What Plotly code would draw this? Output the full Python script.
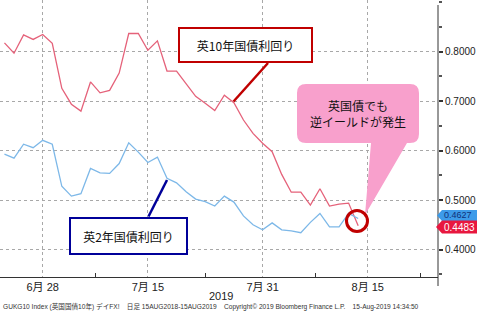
import numpy as np
import plotly.graph_objects as go

# ---- data ----
dates = ["2019-06-24", "2019-06-25", "2019-06-26", "2019-06-27", "2019-06-28",
         "2019-07-01", "2019-07-02", "2019-07-03", "2019-07-04", "2019-07-05",
         "2019-07-08", "2019-07-09", "2019-07-10", "2019-07-11", "2019-07-12",
         "2019-07-15", "2019-07-16", "2019-07-17", "2019-07-18", "2019-07-19",
         "2019-07-22", "2019-07-23", "2019-07-24", "2019-07-25", "2019-07-26",
         "2019-07-29", "2019-07-30", "2019-07-31", "2019-08-01", "2019-08-02",
         "2019-08-05", "2019-08-06", "2019-08-07", "2019-08-08", "2019-08-09",
         "2019-08-12", "2019-08-13", "2019-08-14"]
uk10y = [0.818, 0.797, 0.834, 0.825, 0.835, 0.817, 0.726, 0.694, 0.680, 0.739,
         0.717, 0.722, 0.757, 0.837, 0.837, 0.803, 0.822, 0.761, 0.761, 0.735,
         0.710, 0.696, 0.681, 0.712, 0.697, 0.662, 0.635, 0.615, 0.598, 0.552,
         0.516, 0.516, 0.490, 0.523, 0.488, 0.492, 0.494, 0.4483]
uk2y = [0.593, 0.585, 0.613, 0.606, 0.621, 0.613, 0.528, 0.508, 0.513, 0.564,
        0.555, 0.554, 0.574, 0.616, 0.597, 0.576, 0.587, 0.544, 0.535, 0.517,
        0.502, 0.497, 0.488, 0.508, 0.496, 0.468, 0.450, 0.440, 0.454, 0.440,
        0.438, 0.434, 0.455, 0.473, 0.446, 0.446, 0.473, 0.4627]
tick_dates = ["2019-06-28", "2019-07-15", "2019-07-31", "2019-08-15"]
tick_text = ["6月 28", "7月 15", "7月 31", "8月 15"]
y_ticks = [0.4, 0.5, 0.6, 0.7, 0.8]
label_10y = "英10年国債利回り"
label_2y = "英2年国債利回り"
callout = "英国債でも<br>逆イールドが発生"
footer = ("GUKG10 Index (英国国債10年) デイFX!    日足 15AUG2018-15AUG2019    "
          "Copyright© 2019 Bloomberg Finance L.P.    15-Aug-2019 14:34:50")

# trading-day positions
start = np.datetime64(dates[0])
xs = [int(np.busday_count(start, np.datetime64(d))) for d in dates]
tx = [int(np.busday_count(start, np.datetime64(d))) for d in tick_dates]
minor_tx = [(a + b) / 2 for a, b in zip(tx, tx[1:] + [tx[-1] + (tx[-1] - tx[-2])])]

W, H = 477, 313
PL, PR, PT, PB = 0, 438, 0, 277   # plot area in pixels


def px(x):
    return (x - PL) / (PR - PL)


def py(y):
    return 1 - (y - PT) / (PB - PT)


RED = "#e5627a"
BLUE = "#7db8e8"
DRED = "#c00000"
DBLUE = "#000099"
FONT = "Liberation Sans, Noto Sans CJK JP"
JFONT = "Noto Sans CJK JP"

fig = go.Figure()
fig.add_trace(go.Scatter(x=xs, y=uk10y, mode="lines", line=dict(color=RED, width=1.3),
                         showlegend=False, hoverinfo="skip"))
fig.add_trace(go.Scatter(x=xs, y=uk2y, mode="lines", line=dict(color=BLUE, width=1.3),
                         showlegend=False, hoverinfo="skip"))

shapes = []
# y axis line (extends slightly below plot)
shapes.append(dict(type="line", xref="paper", yref="paper", x0=1, x1=1, y0=py(5), y1=py(286),
                   line=dict(color="#333333", width=1)))
# connector lines
shapes.append(dict(type="line", xref="paper", yref="paper", x0=px(268), y0=py(63),
                   x1=px(233.5), y1=py(101.5), line=dict(color=DRED, width=2.5)))
shapes.append(dict(type="line", xref="paper", yref="paper", x0=px(148.5), y0=py(216.5),
                   x1=px(167), y1=py(180), line=dict(color=DBLUE, width=2.5)))


def pth(pts):
    s = ""
    for cmd, *p in pts:
        s += cmd + " " + " ".join(f"{px(p[i]):.5f},{py(p[i+1]):.5f}" for i in range(0, len(p), 2)) + " "
    return s + "Z"


# pink callout
x0, x1, y0, y1, r = 297, 419, 84, 143, 9
path = pth([("M", x0 + r, y0), ("L", x1 - r, y0), ("Q", x1, y0, x1, y0 + r),
            ("L", x1, y1 - r), ("Q", x1, y1, x1 - r, y1), ("L", 407, y1),
            ("L", 365, 215), ("L", 371, y1), ("L", x0 + r, y1),
            ("Q", x0, y1, x0, y1 - r), ("L", x0, y0 + r), ("Q", x0, y0, x0 + r, y0)])
shapes.append(dict(type="path", xref="paper", yref="paper", path=path,
                   fillcolor="#f8a0cc", line=dict(width=0)))
# red circle
shapes.append(dict(type="circle", xref="paper", yref="paper", x0=px(346.5), x1=px(367.5),
                   y0=py(210.5), y1=py(231.5), line=dict(color=DRED, width=3)))
# value tags (arrow-shaped left ends)
shapes.append(dict(type="path", xref="paper", yref="paper",
                   path=pth([("M", 437, 215.5), ("L", 442, 210), ("L", 480, 210),
                             ("L", 480, 221), ("L", 442, 221)]),
                   fillcolor="#3d9be9", line=dict(width=0)))
shapes.append(dict(type="path", xref="paper", yref="paper",
                   path=pth([("M", 436, 227), ("L", 442, 220.5), ("L", 480, 220.5),
                             ("L", 480, 233.5), ("L", 442, 233.5)]),
                   fillcolor="#e8173f", line=dict(width=0)))

annotations = [
    dict(xref="paper", yref="paper", x=px(245.5), y=py(45), text=label_10y, showarrow=False,
         width=131, height=32, bgcolor="white", bordercolor=DRED, borderwidth=2, borderpad=0,
         font=dict(family=JFONT, size=12, color="#111111"), xanchor="center", yanchor="middle"),
    dict(xref="paper", yref="paper", x=px(128.8), y=py(236), text=label_2y, showarrow=False,
         width=115, height=34, bgcolor="white", bordercolor=DBLUE, borderwidth=2, borderpad=0,
         font=dict(family=JFONT, size=12, color="#111111"), xanchor="center", yanchor="middle"),
    dict(xref="paper", yref="paper", x=px(358), y=py(113), text=callout, showarrow=False,
         font=dict(family=JFONT, size=12, color="#111111"), xanchor="center", yanchor="middle"),
    dict(xref="paper", yref="paper", x=px(443), y=py(215.3), text=f"{uk2y[-1]:.4f}", showarrow=False,
         font=dict(family=FONT, size=9, color="#10307a"), xanchor="left", yanchor="middle",
         borderpad=0),
    dict(xref="paper", yref="paper", x=px(443), y=py(227.3), text=f"{uk10y[-1]:.4f}", showarrow=False,
         font=dict(family=FONT, size=10, color="white"), xanchor="left", yanchor="middle",
         borderpad=0),
    dict(xref="paper", yref="paper", x=px(221), y=py(295.5), text="2019", showarrow=False,
         font=dict(family=FONT, size=11, color="#222222"), xanchor="center", yanchor="middle"),
    dict(xref="paper", yref="paper", x=px(1), y=py(306), text=footer, showarrow=False,
         font=dict(family=FONT, size=6.6, color="#333333"), xanchor="left", yanchor="middle"),
]

fig.update_layout(
    width=W, height=H, margin=dict(l=PL, r=W - PR, t=PT, b=H - PB),
    paper_bgcolor="white", plot_bgcolor="white",
    shapes=shapes, annotations=annotations, showlegend=False,
    xaxis=dict(range=[-0.467, 45.35], tickvals=tx, ticktext=tick_text,
               showgrid=True, gridcolor="#a8a8a8", griddash="dot", gridwidth=1,
               zeroline=False, showline=True, linecolor="#333333", linewidth=1,
               ticks="", tickfont=dict(family=FONT, size=11, color="#222222"),
               minor=dict(tickvals=minor_tx, ticks="inside", ticklen=4, tickcolor="#333333",
                          showgrid=False)),
    yaxis=dict(range=[0.3445, 0.9047], side="right", tickvals=y_ticks,
               ticktext=[f"{v:.4f}" for v in y_ticks],
               showgrid=True, gridcolor="#a8a8a8", griddash="dot", gridwidth=1,
               zeroline=False, showline=False, ticks="outside", ticklen=4, tickwidth=2,
               tickcolor="#333333", tickfont=dict(family=FONT, size=10, color="#222222"),
               minor=dict(dtick=0.05, tick0=0, ticks="outside", ticklen=3, tickcolor="#555555",
                          showgrid=False)),
)

fig.write_html("out.html")
